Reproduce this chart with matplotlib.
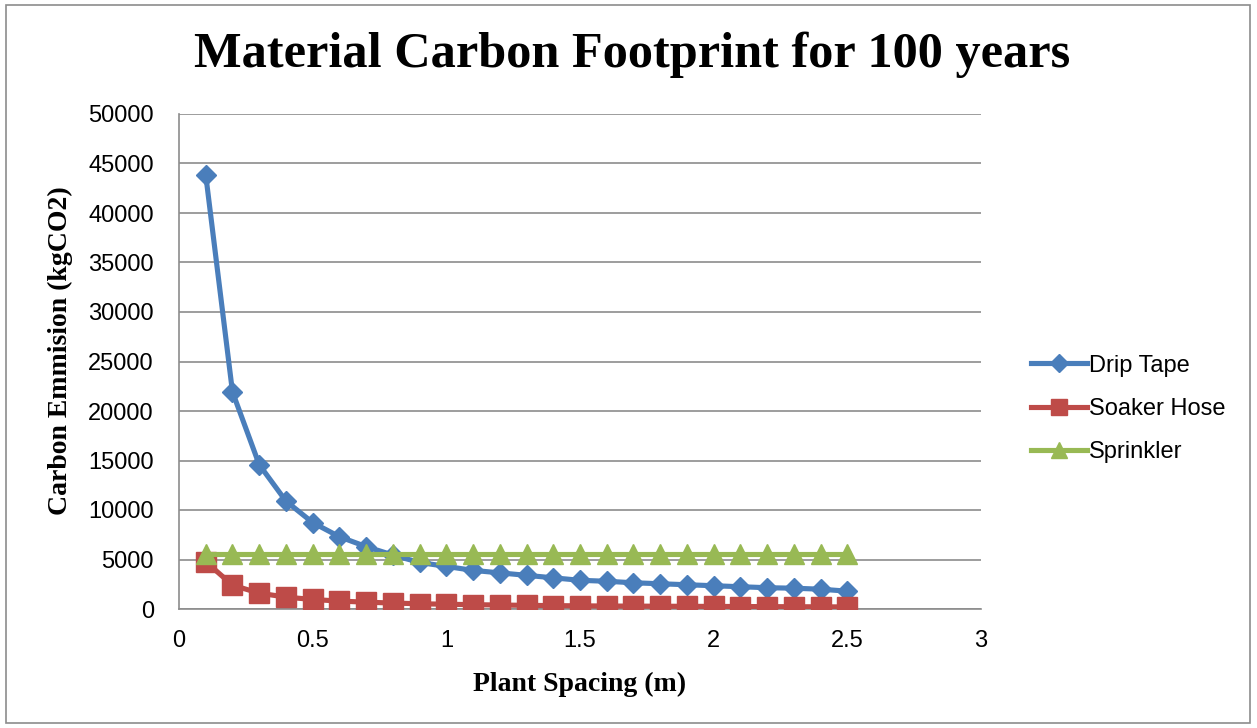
import matplotlib.pyplot as plt
from matplotlib.patches import Rectangle

# =========================
# Data
# =========================
spacing = [0.1, 0.2, 0.3, 0.4, 0.5, 0.6, 0.7, 0.8, 0.9, 1.0,
           1.1, 1.2, 1.3, 1.4, 1.5, 1.6, 1.7, 1.8, 1.9, 2.0,
           2.1, 2.2, 2.3, 2.4, 2.5]
drip_tape = [43850, 21930, 14580, 10900, 8730, 7300, 6300, 5450, 4700, 4300,
             3900, 3650, 3400, 3150, 2900, 2800, 2650, 2550, 2450, 2350,
             2250, 2150, 2100, 2000, 1800]
soaker_hose = [4780, 2410, 1600, 1200, 960, 800, 690, 600, 530, 480,
               440, 400, 370, 340, 320, 300, 290, 280, 270, 260,
               250, 240, 230, 220, 210]
sprinkler = [5600] * 25

x_ticks = [0, 0.5, 1, 1.5, 2, 2.5, 3]
x_tick_labels = ["0", "0.5", "1", "1.5", "2", "2.5", "3"]
y_ticks = list(range(0, 50001, 5000))

# =========================
# Figure
# =========================
W, H = 1257, 728
fig = plt.figure(figsize=(W / 100, H / 100), dpi=100)
ax = fig.add_axes([179 / W, 1 - 609 / H, (981 - 179) / W, (609 - 114) / H])

# outer chart border
fig.patches.append(Rectangle((6 / W, 5 / H), (1250 - 6) / W, (723 - 5) / H,
                             transform=fig.transFigure, fill=False,
                             edgecolor="#8c8c8c", linewidth=1.2))

# Excel draws the series in order: later ones on top
ax.plot(spacing, drip_tape, color="#4a7ebb", linewidth=3.7, marker="D",
        markersize=10.5, label="Drip Tape", zorder=2)
ax.plot(spacing, soaker_hose, color="#be4b48", linewidth=3.7, marker="s",
        markersize=14, label="Soaker Hose", zorder=3)
ax.plot(spacing, sprinkler, color="#98b954", linewidth=3.7, marker="^",
        markersize=14, label="Sprinkler", zorder=4)

ax.set_xlim(0, 3)
ax.set_ylim(0, 50000)
ax.set_xticks(x_ticks)
ax.set_xticklabels(x_tick_labels)
ax.set_yticks(y_ticks)
ax.yaxis.grid(True, color="#8c8c8c", linewidth=1.2)
ax.set_axisbelow(True)
for s in ["top", "right"]:
    ax.spines[s].set_visible(False)
for s in ["left", "bottom"]:
    ax.spines[s].set_color("#8c8c8c")
    ax.spines[s].set_linewidth(1.2)
ax.tick_params(length=0, labelsize=17)
ax.tick_params(axis="x", pad=15)
ax.tick_params(axis="y", pad=18)
for lab in ax.get_xticklabels() + ax.get_yticklabels():
    lab.set_family("Liberation Sans")

serif = "Liberation Serif"
fig.text(632 / W, 1 - 55 / H, "Material Carbon Footprint for 100 years",
         ha="center", va="center", fontsize=36.3, fontweight="bold", family=serif)
fig.text(580 / W, 1 - 684 / H, "Plant Spacing (m)", ha="center", va="center",
         fontsize=20, fontweight="bold", family=serif)
fig.text(60 / W, 1 - 351 / H, "Carbon Emmision (kgCO2)", ha="center",
         va="center", rotation=90, fontsize=20, fontweight="bold", family=serif)

leg = ax.legend(loc="center left", bbox_to_anchor=(1010 / W, 1 - 409 / H),
                bbox_transform=fig.transFigure, frameon=False,
                prop={"family": "Liberation Sans", "size": 17},
                handlelength=2.35, handletextpad=0.1, labelspacing=0.9,
                markerscale=0.85)

fig.savefig("out.png", dpi=100)
plt.close(fig)
